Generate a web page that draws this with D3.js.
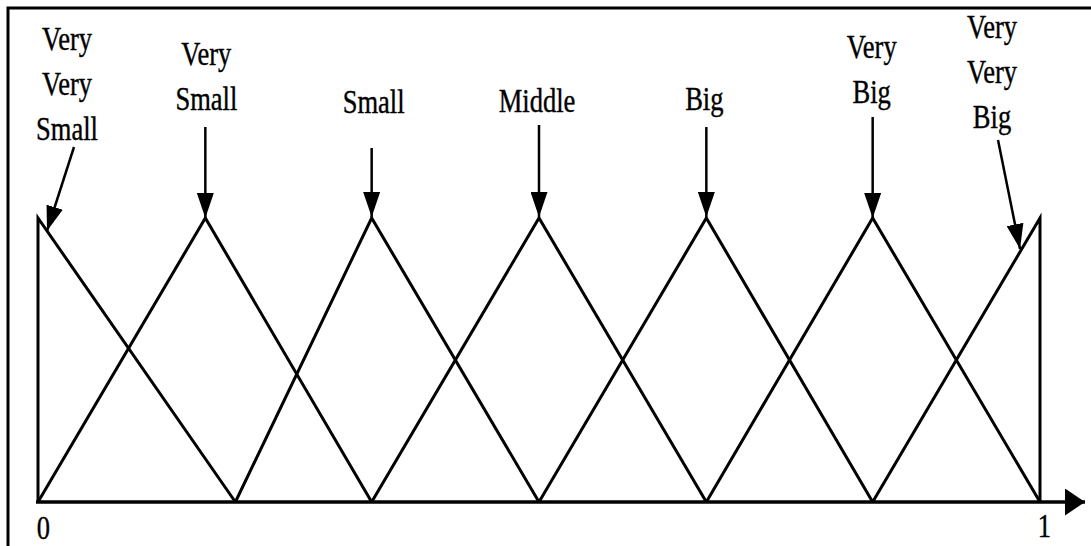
<!DOCTYPE html>
<html>
<head>
<meta charset="utf-8">
<script src="https://cdn.jsdelivr.net/npm/d3@7"></script>
<style>
  body { margin: 0; background: #fff; }
  svg { display: block; }
  text { font-family: "Liberation Serif", "Times New Roman", serif; fill: #000; stroke: #000; stroke-width: 0.4px; }
</style>
</head>
<body>
<div id="graphic"></div>
<script>
(function () {

  // fuzzy sets: name lines, left foot, peak, right foot (universe 0..1)
  var labels = [
    ["Very", "Very", "Small"],
    ["Very", "Small"],
    ["Small"],
    ["Middle"],
    ["Big"],
    ["Very", "Big"],
    ["Very", "Very", "Big"]
  ]
  var leftFeet  = [0,     0,     0.197, 0.333, 0.5,   0.667, 0.833]
  var peaks     = [0,     0.167, 0.333, 0.5,   0.667, 0.833, 1]
  var rightFeet = [0.197, 0.333, 0.5,   0.667, 0.833, 1,     1]
  var tickLabels = [0, 1]

  // label placement (pixels), kept apart from the data
  var labelDx       = [29, 1, 2, -2, -2, -1, -48]
  var labelBaseline = [140, 110, 113, 112, 110, 103, 128]
  var arrowStart    = [[36, -71], [0, -91], [0, -70], [0, -93], [0, -91], [0, -101], [-42, -78]]
  var arrowTip      = [[9, 13], [0, 0], [0, -1], [0, -1], [0, -1], [0, 0], [-20, 31]]

  var width = 1091,
      height = 546

  var svg = d3.select("#graphic").append("svg")
      .attr("width", width)
      .attr("height", height)

  var defs = svg.append("defs")
  defs.append("marker")
      .attr("id", "head")
      .attr("viewBox", "0 0 25 17")
      .attr("refX", 25)
      .attr("refY", 8.5)
      .attr("markerWidth", 25)
      .attr("markerHeight", 17)
      .attr("markerUnits", "userSpaceOnUse")
      .attr("orient", "auto")
    .append("path")
      .attr("d", "M0,0L25,8.5L0,17Z")
      .attr("fill", "#000")
  defs.append("marker")
      .attr("id", "axisHead")
      .attr("viewBox", "0 0 20 27")
      .attr("refX", 20)
      .attr("refY", 13.5)
      .attr("markerWidth", 20)
      .attr("markerHeight", 27)
      .attr("markerUnits", "userSpaceOnUse")
      .attr("orient", "auto")
    .append("path")
      .attr("d", "M0,0L20,13.5L0,27Z")
      .attr("fill", "#000")

  // frame (top and left edges visible, rest cut by the crop)
  svg.append("rect")
      .attr("x", 8)
      .attr("y", 8)
      .attr("width", width + 20)
      .attr("height", height + 20)
      .attr("fill", "none")
      .attr("stroke", "#000")
      .attr("stroke-width", 3)

  var x = d3.scaleLinear()
    .domain([0, 1])
    .range([38, 1040])

  var y = d3.scaleLinear()
    .domain([0, 1])
    .range([502, 218])

  var sets = peaks.map(function (p, i) {
    return { name: labels[i], a: leftFeet[i], b: p, c: rightFeet[i], i: i }
  })

  var line = d3.line()
    .x(function (d) { return x(d[0]) })
    .y(function (d) { return y(d[1]) })

  // triangles
  svg.selectAll(".mf")
    .data(sets)
    .enter().append("path")
    .attr("class", "mf")
    .attr("fill", "none")
    .attr("stroke", "#000")
    .attr("stroke-width", 3)
    .attr("d", function (d) {
      return line([[d.a, 0], [d.b, 1], [d.c, 0]])
    })

  // x axis line with arrow
  svg.append("line")
      .attr("x1", x(0) - 2)
      .attr("x2", 1085)
      .attr("y1", y(0))
      .attr("y2", y(0))
      .attr("stroke", "#000")
      .attr("stroke-width", 3.5)
      .attr("marker-end", "url(#axisHead)")

  var xAxis = d3.axisBottom(x)
    .tickValues(tickLabels)
    .tickSize(0)
    .tickPadding(0)
    .tickFormat(d3.format("d"))

  var axisG = svg.append("g")
      .attr("class", "axis x-axis")
      .attr("transform", "translate(0," + y(0) + ")")
      .call(xAxis)
  axisG.select(".domain").remove()
  axisG.selectAll(".tick text")
      .attr("font-family", "Liberation Serif, serif")
      .attr("font-size", 34)
      .attr("fill", "#000")
      .attr("dy", 0)
      .attr("y", 0)
      .attr("transform", function (d) {
        return "translate(" + (d === 0 ? 5 : 4) + "," + (d === 0 ? 37 : 35) + ") scale(0.78,1)"
      })

  // labels and arrows
  var lineGap = 45
  sets.forEach(function (d) {
    var cx = x(d.b) + labelDx[d.i]
    var n = d.name.length
    d.name.forEach(function (t, k) {
      var by = labelBaseline[d.i] - (n - 1 - k) * lineGap
      svg.append("text")
          .attr("transform", "translate(" + cx + "," + by + ") scale(0.78,1)")
          .attr("text-anchor", "middle")
          .attr("font-size", 34)
          .text(t)
    })

    var px = x(d.b), py = y(1)
    svg.append("line")
        .attr("x1", px + arrowStart[d.i][0])
        .attr("y1", py + arrowStart[d.i][1])
        .attr("x2", px + arrowTip[d.i][0])
        .attr("y2", py + arrowTip[d.i][1])
        .attr("stroke", "#000")
        .attr("stroke-width", 2.5)
        .attr("marker-end", "url(#head)")
  })

})()
</script>
</body>
</html>
